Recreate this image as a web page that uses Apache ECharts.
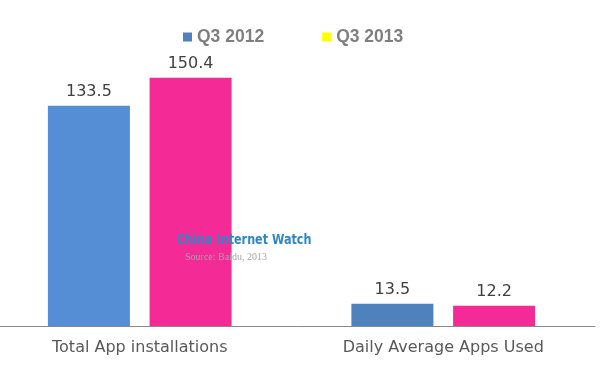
<!DOCTYPE html>
<html>
<head>
<meta charset="utf-8">
<script src="https://cdn.jsdelivr.net/npm/echarts@6/dist/echarts.min.js"></script>
<style>
html,body{margin:0;padding:0;background:#fff;}
#chart{width:600px;height:380px;}
</style>
</head>
<body>
<div id="chart"></div>
<script>
const categories = ['Total App installations', 'Daily Average Apps Used'];
const seriesNames = ['Q3 2012', 'Q3 2013'];
const q3_2012 = [133.5, 13.5];
const q3_2013 = [150.4, 12.2];

const blueColors = ['#558ED5', '#4F81BD'];
const pink = '#F42B97';

const chart = echarts.init(document.getElementById('chart'), null, {renderer: 'canvas'});
const labelFont = 'DejaVu Sans';

chart.setOption({
  animation: false,
  backgroundColor: '#ffffff',
  grid: {left: -12, right: 5, top: 62, bottom: 54, containLabel: false, outerBoundsMode: 'none'},
  legend: {
    top: 23,
    left: 178,
    itemWidth: 9,
    itemHeight: 9,
    itemGap: 58,
    icon: 'rect',
    textStyle: {color: '#7F7F7F', fontSize: 17.5, fontWeight: 'bold', fontFamily: 'Liberation Sans'},
    data: [
      {name: seriesNames[0], itemStyle: {color: '#4F81BD'}},
      {name: seriesNames[1], itemStyle: {color: '#FFFF00'}}
    ]
  },
  xAxis: {
    type: 'category',
    data: categories,
    axisLine: {lineStyle: {color: '#898989', width: 1}},
    axisTick: {show: false},
    axisLabel: {color: '#595959', fontSize: 16, fontFamily: labelFont, margin: 14}
  },
  yAxis: {
    type: 'value',
    min: 0,
    max: 160,
    show: false,
    splitLine: {show: false}
  },
  series: [
    {
      name: seriesNames[0],
      type: 'bar',
      barWidth: 82,
      barGap: '24%',
      data: q3_2012.map((v, i) => ({value: v, itemStyle: {color: blueColors[i]}})),
      itemStyle: {color: '#4F81BD'},
      label: {show: true, position: 'top', distance: 6, color: '#404040', fontSize: 16, fontFamily: labelFont}
    },
    {
      name: seriesNames[1],
      type: 'bar',
      barWidth: 82,
      barGap: '24%',
      data: q3_2013,
      itemStyle: {color: pink},
      label: {show: true, position: 'top', distance: 6, color: '#404040', fontSize: 16, fontFamily: labelFont}
    }
  ],
  graphic: [
    {
      type: 'text', z: 100, x: 177, y: 233, scaleX: 0.89,
      style: {text: 'China Internet Watch', fill: '#2E86C8', font: 'bold 14px "Liberation Sans Narrow", "DejaVu Sans Condensed", sans-serif'}
    },
    {
      type: 'text', z: 100, left: 185, top: 252,
      style: {text: 'Source: Baidu, 2013', fill: '#A6A6A6', font: '10px "Liberation Serif", serif'}
    }
  ]
});
</script>
</body>
</html>
